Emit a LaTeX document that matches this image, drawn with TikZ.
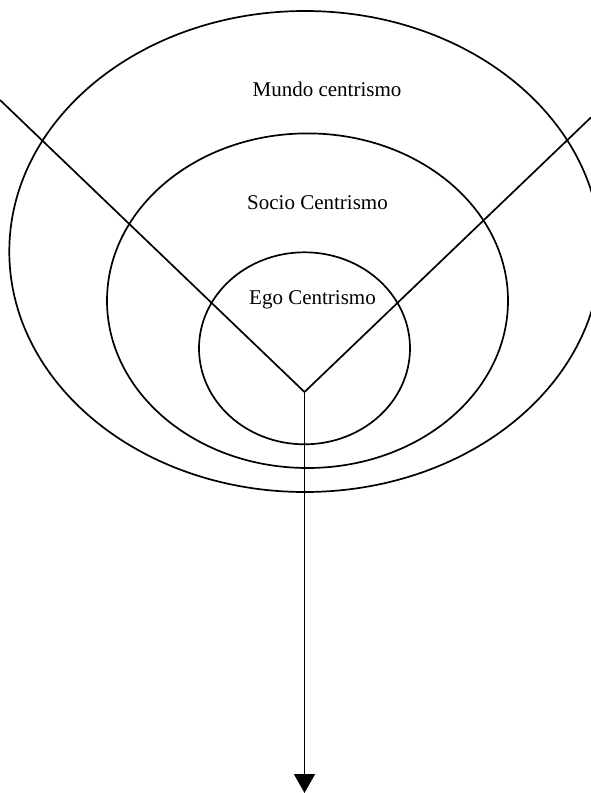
\documentclass[tikz,border=0pt]{standalone}
\usepackage{fontspec}
\setmainfont{Liberation Serif}
\usetikzlibrary{arrows.meta}
\begin{document}
\begin{tikzpicture}[x=1pt,y=-1pt,
  ring/.style={draw=black,line width=1.7pt},
  branch/.style={draw=black,line width=1.7pt},
  lbl/.style={inner sep=0pt,anchor=base,font=\fontsize{21}{25}\selectfont},
  flow/.style={draw=black,line width=1.7pt,-{Triangle[length=19pt,width=21pt]}}]
\useasboundingbox (0,0) rectangle (591,793);
% rings
\draw[ring] (305,251.5) ellipse [x radius=295.7, y radius=240.5];
\draw[ring] (307.5,300.7) ellipse [x radius=200.5, y radius=167.3];
\draw[ring] (304.5,348.3) ellipse [x radius=105.5, y radius=96];
% labels
\node[lbl] (mundo) at (327,96) {Mundo centrismo};
\node[lbl] (socio) at (317.5,209) {Socio Centrismo};
\node[lbl] (ego) at (312.5,304) {Ego Centrismo};
% V lines and arrow
\coordinate (lt) at (0,100);
\coordinate (rt) at (591,117.4);
\coordinate (v) at (304.5,392);
\coordinate (e) at (304.5,793);
\draw[branch,line join=miter] (lt) -- (v) -- (rt);
\draw[flow] (v) -- (e);
\end{tikzpicture}
\end{document}
